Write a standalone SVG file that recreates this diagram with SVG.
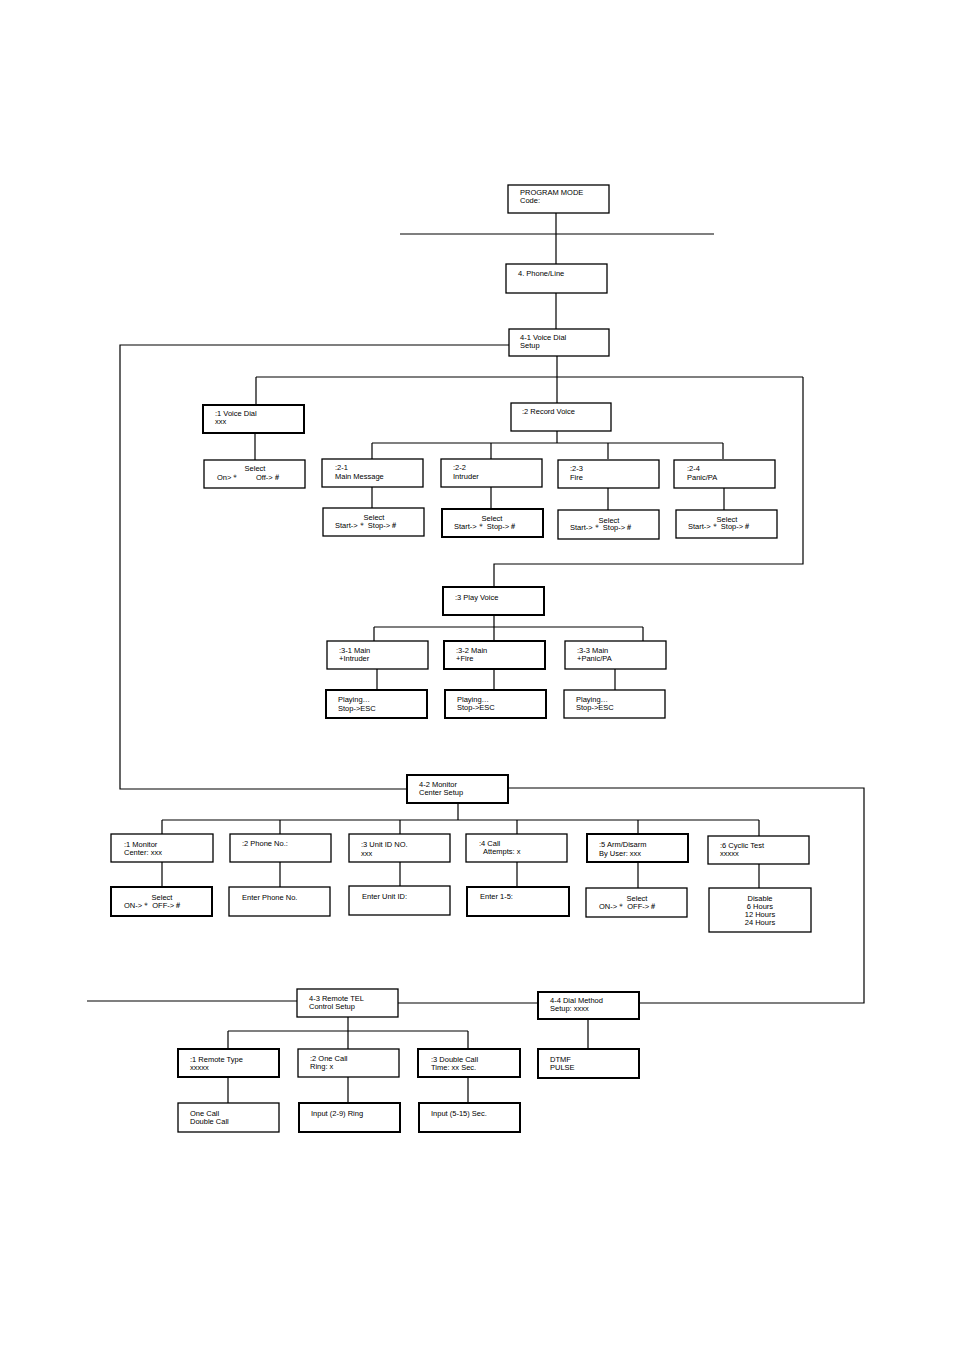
<svg xmlns="http://www.w3.org/2000/svg" width="954" height="1350" viewBox="0 0 954 1350">
<style>
rect{fill:#fff;stroke:#000;stroke-width:1.3}
rect.b{stroke-width:2}
text{font-family:"Liberation Sans",Arial,sans-serif;font-size:7.5px;fill:#000}
.c{text-anchor:middle}
#connectors path{fill:none;stroke:#000;stroke-width:1.2}
</style>
<rect x="0" y="0" width="954" height="1350" style="stroke:none"/>
<g id="connectors">
<path d="M400 234H714M556 213V264M556 293V329"/>
<path d="M509 345H120V789H407M508 788H864V1003H639"/>
<path d="M557 356V377M256 377H803M256 377V405M557 377V403M803 377V564H494V587"/>
<path d="M255 433V460M557 431V443M372 443H723M372 443V459M491 443V459M608 443V459M723 443V459"/>
<path d="M372 487V508M491 487V509M608 488V510M724 488V510"/>
<path d="M494 615V627M374 627H643M374 627V641M494 627V641M643 627V641M377 669V690M494 669V690M615 669V690"/>
<path d="M458 803V820M162 820H759M162 820V834M280 820V834M400 820V834M517 820V834M638 820V834M759 820V836"/>
<path d="M162 862V887M280 862V887M400 862V887M517 862V887M638 862V888M759 864V888"/>
<path d="M87 1001H297M398 1003H538M348 1017V1031M228 1031H468M228 1031V1049M348 1031V1049M468 1031V1049"/>
<path d="M228 1077V1103M348 1077V1103M468 1077V1103M588 1019V1049"/>
</g>
<g id="pm"><rect x="508" y="185" width="101" height="28"/><text x="520" y="195">PROGRAM MODE</text><text x="520" y="203">Code:</text></g>
<g id="phone"><rect x="506" y="264" width="101" height="29"/><text x="518" y="276">4. Phone/Line</text></g>
<g id="n41"><rect x="509" y="329" width="100" height="27"/><text x="520" y="340">4-1 Voice Dial</text><text x="520" y="348">Setup</text></g>
<g id="n1"><rect x="203" y="405" width="101" height="28" class="b"/><text x="215" y="416">:1 Voice Dial</text><text x="215" y="424">xxx</text></g>
<g id="n1s"><rect x="204" y="460" width="101" height="28"/><text x="255" y="471" class="c">Select</text><text x="217" y="480">On&gt;＊</text><text x="256" y="480">Off-&gt;＃</text></g>
<g id="n2"><rect x="511" y="403" width="100" height="28"/><text x="522" y="414">:2 Record Voice</text></g>
<g id="n21"><rect x="322" y="459" width="101" height="28"/><text x="335" y="470">:2-1</text><text x="335" y="479">Main Message</text></g>
<g id="n22"><rect x="441" y="459" width="101" height="28"/><text x="453" y="470">:2-2</text><text x="453" y="479">Intruder</text></g>
<g id="n23"><rect x="558" y="460" width="101" height="28"/><text x="570" y="471">:2-3</text><text x="570" y="480">Fire</text></g>
<g id="n24"><rect x="674" y="460" width="101" height="28"/><text x="687" y="471">:2-4</text><text x="687" y="480">Panic/PA</text></g>
<g id="n21s"><rect x="323" y="508" width="101" height="28"/><text x="374" y="520" class="c">Select</text><text x="335" y="528">Start-&gt;＊   Stop-&gt;＃</text></g>
<g id="n22s"><rect x="442" y="509" width="101" height="28" class="b"/><text x="492" y="521" class="c">Select</text><text x="454" y="529">Start-&gt;＊   Stop-&gt;＃</text></g>
<g id="n23s"><rect x="558" y="510" width="101" height="29"/><text x="609" y="523" class="c">Select</text><text x="570" y="530">Start-&gt;＊   Stop-&gt;＃</text></g>
<g id="n24s"><rect x="676" y="510" width="101" height="28"/><text x="727" y="522" class="c">Select</text><text x="688" y="529">Start-&gt;＊   Stop-&gt;＃</text></g>
<g id="n3"><rect x="443" y="587" width="101" height="28" class="b"/><text x="455" y="600">:3 Play Voice</text></g>
<g id="n31"><rect x="327" y="641" width="101" height="28"/><text x="339" y="653">:3-1 Main</text><text x="339" y="661">+Intruder</text></g>
<g id="n32"><rect x="444" y="641" width="101" height="28" class="b"/><text x="456" y="653">:3-2 Main</text><text x="456" y="661">+Fire</text></g>
<g id="n33"><rect x="565" y="641" width="101" height="28"/><text x="577" y="653">:3-3 Main</text><text x="577" y="661">+Panic/PA</text></g>
<g id="n31p"><rect x="326" y="690" width="101" height="28" class="b"/><text x="338" y="702">Playing…</text><text x="338" y="711">Stop-&gt;ESC</text></g>
<g id="n32p"><rect x="445" y="690" width="101" height="28" class="b"/><text x="457" y="702">Playing…</text><text x="457" y="710">Stop-&gt;ESC</text></g>
<g id="n33p"><rect x="564" y="690" width="101" height="28"/><text x="576" y="702">Playing…</text><text x="576" y="710">Stop-&gt;ESC</text></g>
<g id="n42"><rect x="407" y="775" width="101" height="28" class="b"/><text x="419" y="787">4-2 Monitor</text><text x="419" y="795">Center Setup</text></g>
<g id="m1"><rect x="111" y="834" width="102" height="28"/><text x="124" y="847">:1 Monitor</text><text x="124" y="855">Center: xxx</text></g>
<g id="m2"><rect x="230" y="834" width="101" height="28"/><text x="242" y="846">:2 Phone No.:</text></g>
<g id="m3"><rect x="349" y="834" width="101" height="28"/><text x="361" y="847">:3 Unit ID NO.</text><text x="361" y="856">xxx</text></g>
<g id="m4"><rect x="466" y="834" width="101" height="28"/><text x="479" y="846">:4 Call</text><text x="483" y="854">Attempts: x</text></g>
<g id="m5"><rect x="587" y="834" width="101" height="28" class="b"/><text x="599" y="847">:5 Arm/Disarm</text><text x="599" y="856">By User: xxx</text></g>
<g id="m6"><rect x="708" y="836" width="101" height="28"/><text x="720" y="848">:6 Cyclic Test</text><text x="720" y="856">xxxxx</text></g>
<g id="m1s"><rect x="111" y="887" width="101" height="29" class="b"/><text x="162" y="900" class="c">Select</text><text x="124" y="908">ON-&gt;＊      OFF-&gt;＃</text></g>
<g id="m2s"><rect x="229" y="887" width="101" height="29"/><text x="242" y="900">Enter Phone No.</text></g>
<g id="m3s"><rect x="349" y="886" width="101" height="29"/><text x="362" y="899">Enter Unit ID:</text></g>
<g id="m4s"><rect x="467" y="887" width="102" height="29" class="b"/><text x="480" y="899">Enter 1-5:</text></g>
<g id="m5s"><rect x="586" y="888" width="101" height="29"/><text x="637" y="901" class="c">Select</text><text x="599" y="909">ON-&gt;＊      OFF-&gt;＃</text></g>
<g id="m6s"><rect x="709" y="888" width="102" height="44"/><text x="760" y="901" class="c">Disable</text><text x="760" y="909" class="c">6 Hours</text><text x="760" y="917" class="c">12 Hours</text><text x="760" y="925" class="c">24 Hours</text></g>
<g id="n43"><rect x="297" y="989" width="101" height="28"/><text x="309" y="1001">4-3 Remote TEL</text><text x="309" y="1009">Control Setup</text></g>
<g id="n44"><rect x="538" y="992" width="101" height="27" class="b"/><text x="550" y="1003">4-4 Dial Method</text><text x="550" y="1011">Setup: xxxx</text></g>
<g id="r1"><rect x="178" y="1049" width="101" height="28" class="b"/><text x="190" y="1062">:1 Remote Type</text><text x="190" y="1070">xxxxx</text></g>
<g id="r2"><rect x="298" y="1049" width="101" height="28"/><text x="310" y="1061">:2 One Call</text><text x="310" y="1069">Ring: x</text></g>
<g id="r3"><rect x="418" y="1049" width="102" height="28" class="b"/><text x="431" y="1062">:3 Double Call</text><text x="431" y="1070">Time: xx Sec.</text></g>
<g id="d1"><rect x="538" y="1049" width="101" height="29" class="b"/><text x="550" y="1062">DTMF</text><text x="550" y="1070">PULSE</text></g>
<g id="r1s"><rect x="178" y="1103" width="101" height="29"/><text x="190" y="1116">One Call</text><text x="190" y="1124">Double Call</text></g>
<g id="r2s"><rect x="299" y="1103" width="101" height="29" class="b"/><text x="311" y="1116">Input (2-9) Ring</text></g>
<g id="r3s"><rect x="419" y="1103" width="101" height="29" class="b"/><text x="431" y="1116">Input (5-15) Sec.</text></g>
</svg>
